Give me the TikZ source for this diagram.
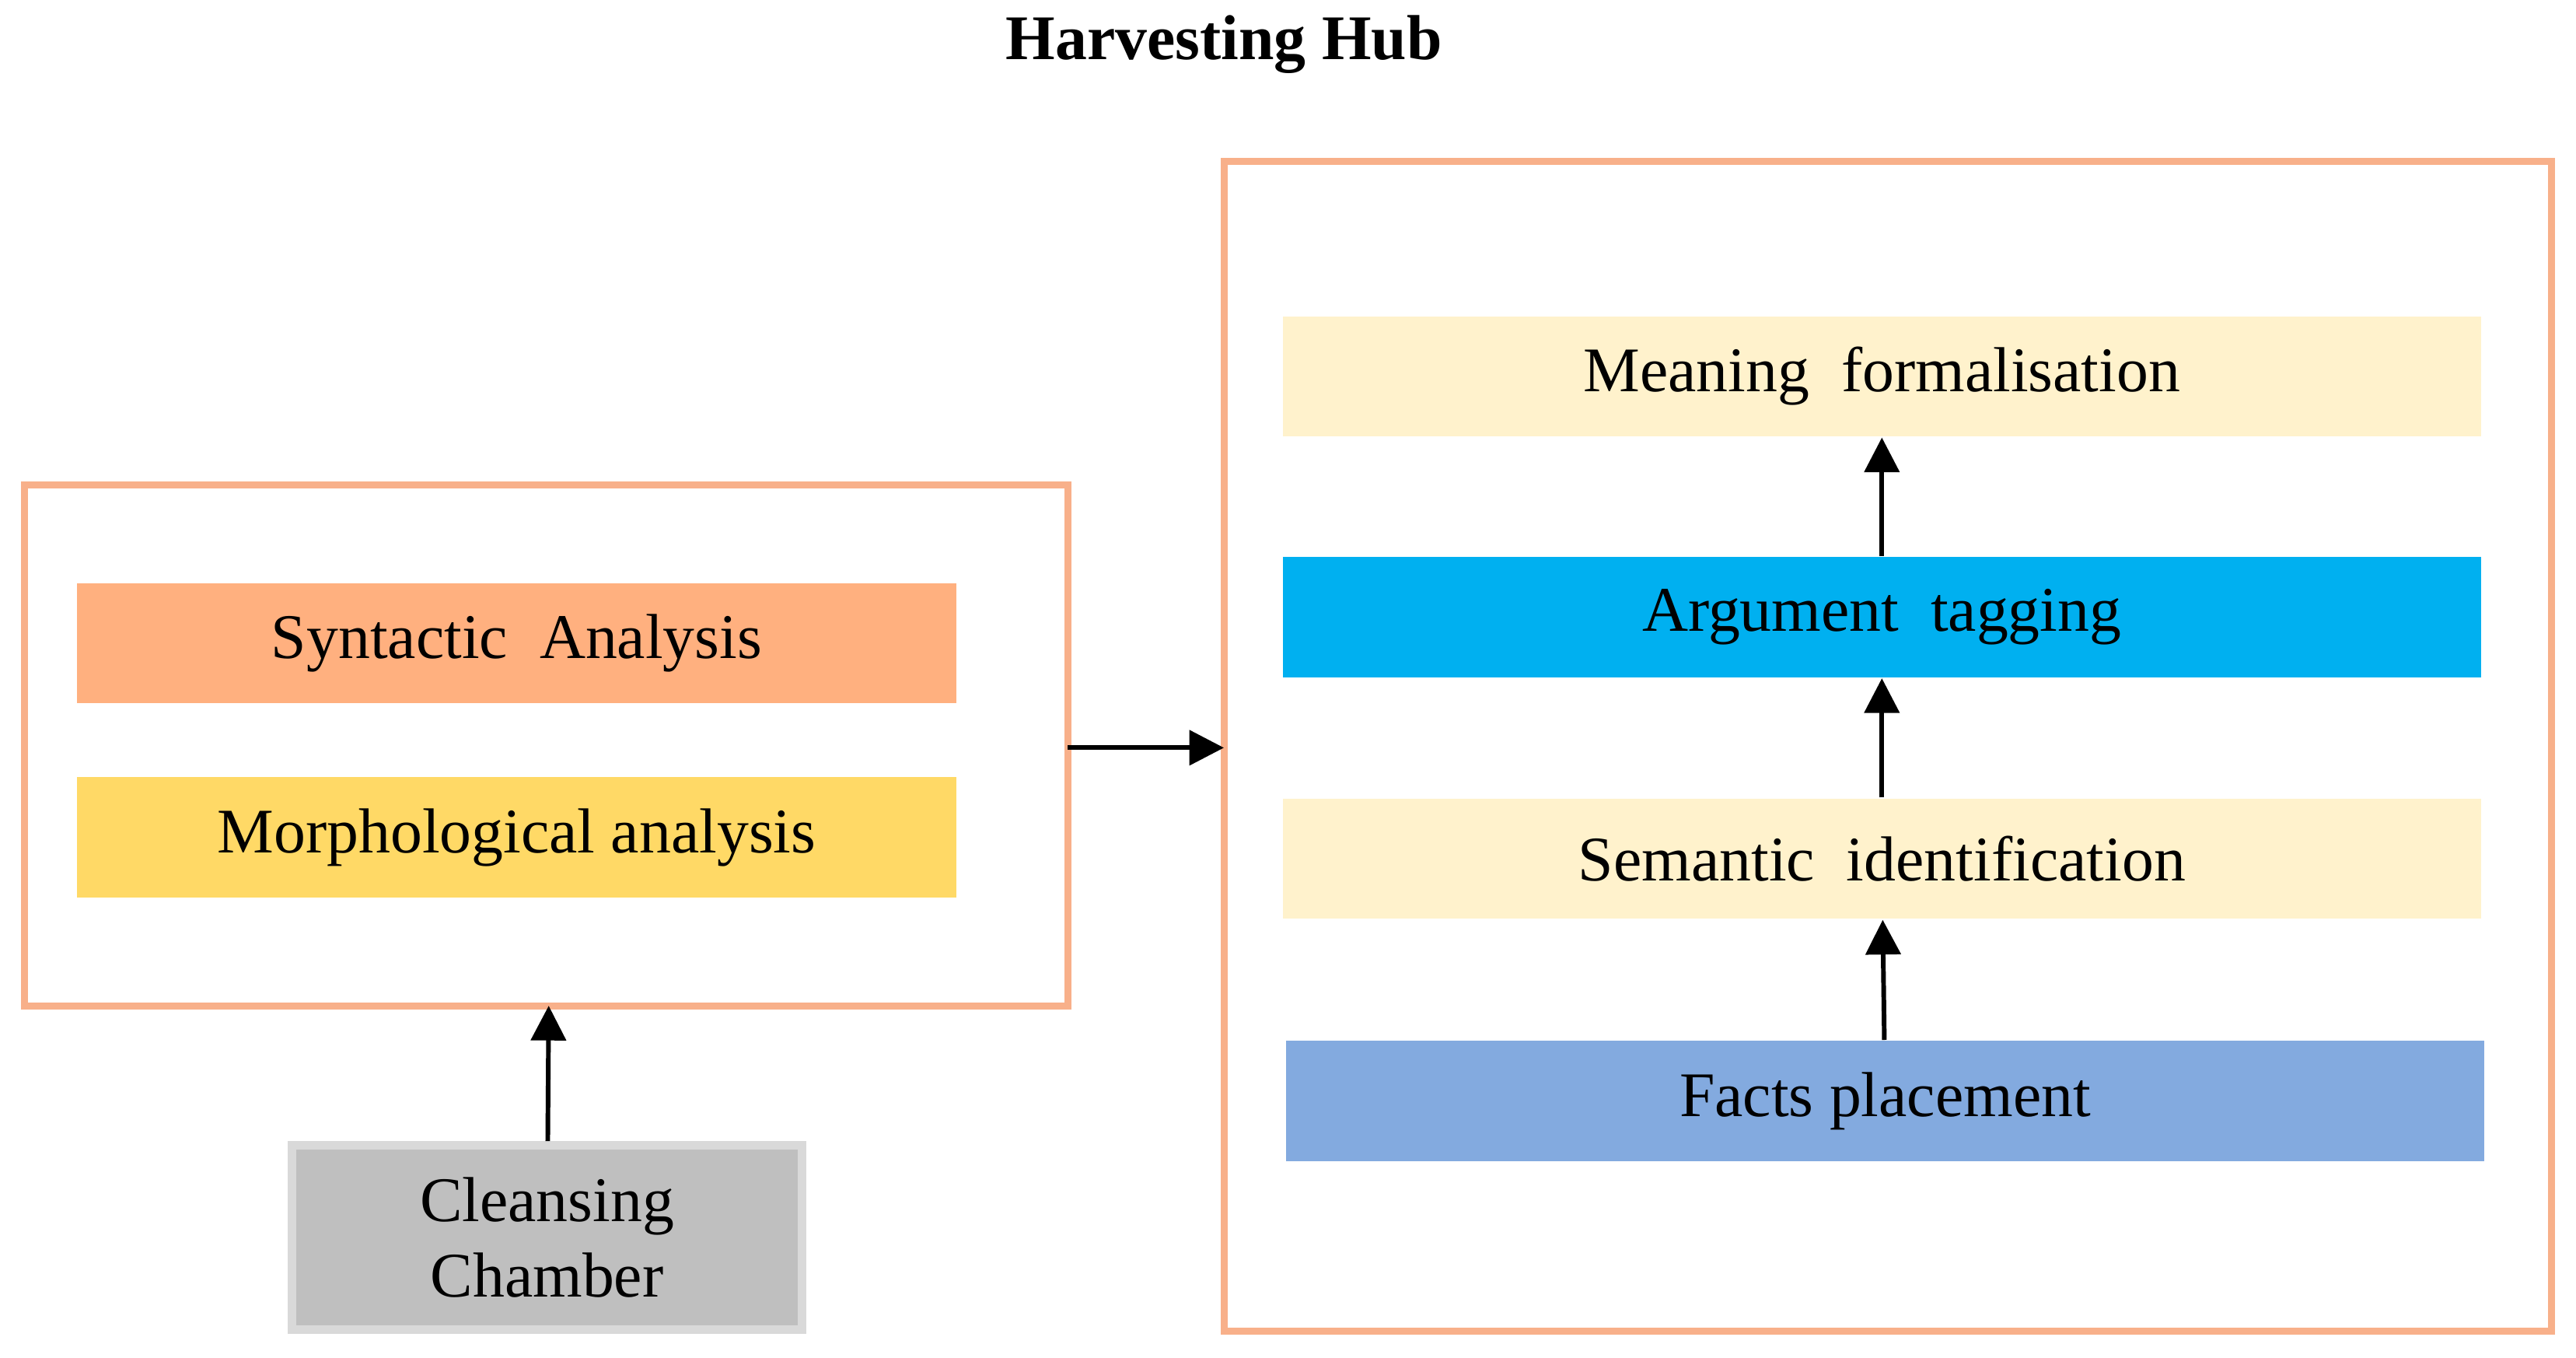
\documentclass[tikz,border=0pt]{standalone}
\usepackage{fontspec}
\setmainfont{Liberation Serif}
\usetikzlibrary{positioning,arrows.meta}
\definecolor{frameor}{HTML}{F8B08A}
\definecolor{synor}{HTML}{FFB07F}
\definecolor{morphy}{HTML}{FFD966}
\definecolor{paley}{HTML}{FFF2CC}
\definecolor{argb}{HTML}{00B0F0}
\definecolor{factb}{HTML}{83AADF}
\definecolor{cleang}{HTML}{BFBFBF}
\begin{document}
\begin{tikzpicture}[x=0.01cm,y=-0.01cm]
        \tikzset{
            frame/.style={draw=frameor, line width=1.2pt},
            phase/.style={
                    minimum width=5.35cm,
                    minimum height=0.73cm,
                    inner sep=0pt,
                    font=\fontsize{11pt}{13pt}\selectfont,
                },
            stage/.style={phase, minimum width=7.29cm},
            link/.style={-{Triangle[length=6pt,width=6pt]}, thick},
        }
        \useasboundingbox (0,0) rectangle (1568,826);
        \node[font=\bfseries\fontsize{11pt}{13pt}\selectfont] (title) at (745,27) {Harvesting Hub};
        % left block
        \draw[frame] (15,295) rectangle (650,612);
        \coordinate (lbot) at (334,612);
        \coordinate (lright) at (650,455);
        \node[phase, fill=synor] (syn) at (314.5,391.5) {Syntactic\ \ Analysis};
        \node[phase, fill=morphy] (morph) at (314.5,509.5) {Morphological analysis};
        \node[phase, minimum width=3.1cm, minimum height=1.12cm, fill=cleang,
              draw=gray!30, line width=1.5pt, align=center] (clean) at (333,753)
              {Cleansing\\Chamber};
        % right block
        \draw[frame] (745,98) rectangle (1553,810);
        \coordinate (rleft) at (745,455);
        \node[stage, fill=paley] (mean) at (1145.5,229) {Meaning\ \ formalisation};
        \node[stage, fill=argb] (arg) at (1145.5,375.5) {Argument\ \ tagging};
        \node[stage, fill=paley] (sem) at (1145.5,522.5) {Semantic\ \ identification};
        \node[stage, fill=factb] (fact) at (1147.5,670) {Facts placement};

        \draw[link] (clean) -- (lbot);
        \draw[link] (lright) -- (rleft);
        \draw[link] (fact) -- (sem);
        \draw[link] (sem) -- (arg);
        \draw[link] (arg) -- (mean);
    \end{tikzpicture}
\end{document}
